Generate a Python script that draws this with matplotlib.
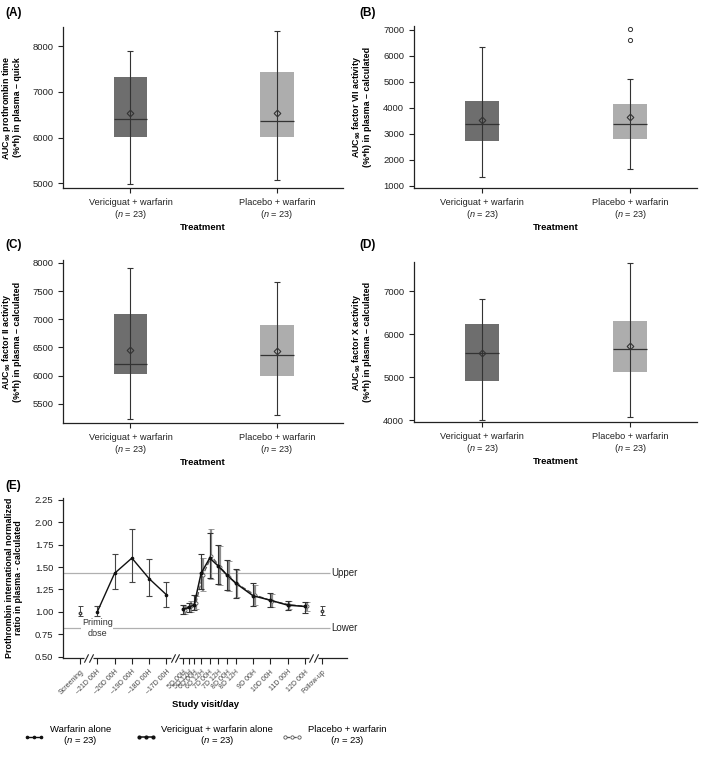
import matplotlib
matplotlib.use("Agg")
import matplotlib.pyplot as plt
from matplotlib.lines import Line2D

plt.rcParams['font.family'] = ['Liberation Sans', 'DejaVu Sans']
plt.rcParams['mathtext.fontset'] = 'custom'
plt.rcParams['mathtext.rm'] = 'Liberation Sans'
plt.rcParams['mathtext.it'] = 'Liberation Sans:italic'
plt.rcParams['mathtext.bf'] = 'Liberation Sans:bold'

# ---- box plot panels (A-D) ----
treatments = ["Vericiguat + warfarin", "Placebo + warfarin"]
n_per_group = [23, 23]

a_q1, a_q3 = [6010, 6010], [7330, 7430]
a_med, a_mean = [6400, 6360], [6540, 6550]
a_lo, a_hi = [4990, 5080], [7890, 8330]
a_out = [[], []]

b_q1, b_q3 = [2740, 2820], [4270, 4160]
b_med, b_mean = [3400, 3400], [3550, 3640]
b_lo, b_hi = [1330, 1640], [6330, 5130]
b_out = [[], [6620, 7030]]

c_q1, c_q3 = [6030, 5990], [7100, 6890]
c_med, c_mean = [6200, 6360], [6450, 6440]
c_lo, c_hi = [5230, 5300], [7900, 7660]
c_out = [[], []]

d_q1, d_q3 = [4910, 5130], [6240, 6310]
d_med, d_mean = [5560, 5650], [5560, 5730]
d_lo, d_hi = [4010, 4070], [6810, 7660]
d_out = [[], []]

# ---- INR time course (E) ----
visit_labels = ["Screening", "\u201321D 00H", "\u201320D 00H", "\u201319D 00H", "\u201318D 00H",
                "\u201317D 00H", "5D 00H", "5D 12H", "6D 00H", "6D 12H", "7D 00H", "7D 12H",
                "8D 00H", "8D 12H", "9D 00H", "10D 00H", "11D 00H", "12D 00H", "Follow-up"]

screen_mean, screen_lo, screen_hi = 0.99, 0.95, 1.06
followup_mean, followup_lo, followup_hi = 1.01, 0.96, 1.06

warf_mean = [1.00, 1.43, 1.60, 1.37, 1.19]
warf_lo = [0.95, 1.25, 1.33, 1.18, 1.05]
warf_hi = [1.07, 1.64, 1.93, 1.59, 1.33]

veri_mean = [1.03, 1.05, 1.08, 1.43, 1.60, 1.51, 1.41, 1.32, 1.18, 1.13, 1.075, 1.06]
veri_lo = [0.98, 1.00, 1.02, 1.25, 1.38, 1.31, 1.24, 1.16, 1.07, 1.05, 1.02, 0.99]
veri_hi = [1.08, 1.10, 1.19, 1.64, 1.88, 1.75, 1.58, 1.48, 1.32, 1.21, 1.12, 1.11]

plac_mean = [1.02, 1.06, 1.10, 1.41, 1.62, 1.50, 1.39, 1.31, 1.19, 1.12, 1.08, 1.06]
plac_lo = [0.98, 1.00, 1.03, 1.23, 1.37, 1.30, 1.23, 1.17, 1.08, 1.05, 1.03, 1.01]
plac_hi = [1.07, 1.12, 1.18, 1.60, 1.92, 1.73, 1.57, 1.47, 1.30, 1.20, 1.12, 1.11]

inr_upper, inr_lower = 1.43, 0.82

# layout positions on the visit axis
visit_x = [0, 1, 2, 3, 4, 5, 5.95, 6.3, 6.6, 7.0, 7.5, 8.0, 8.5, 9.0, 10, 11, 12, 13, 14]
break_x = [0.5, 5.5, 13.5]

box_colors = ['#6e6e6e', '#adadad']
dark = '#333333'

fig = plt.figure(figsize=(7.08, 7.6), dpi=100)


def style_axes(ax):
    for s in ['top', 'right']:
        ax.spines[s].set_visible(False)
    for s in ['left', 'bottom']:
        ax.spines[s].set_linewidth(0.9)
        ax.spines[s].set_color('#222222')
    ax.tick_params(direction='out', length=3.5, width=0.8, labelsize=6.8, colors='#222222')


def box_panel(rect, q1, q3, med, mean, lo, hi, fliers, ylabel, ylim, yticks):
    ax = fig.add_axes(rect)
    style_axes(ax)
    x = list(range(len(treatments)))
    ax.bar(x, [b - a for a, b in zip(q1, q3)], bottom=q1, width=0.23,
           color=box_colors, zorder=1)
    ax.errorbar(x, med, yerr=[[m - l for m, l in zip(med, lo)], [h - m for m, h in zip(med, hi)]],
                fmt='none', ecolor=dark, elinewidth=0.8, capsize=2, capthick=0.8, zorder=2)
    ax.hlines(med, [i - 0.115 for i in x], [i + 0.115 for i in x], color=dark, lw=0.9, zorder=3)
    ax.plot(x, mean, 'D', mfc='none', mec=dark, ms=3.4, mew=0.8, zorder=4)
    for i, fl in enumerate(fliers):
        if fl:
            ax.plot([i] * len(fl), fl, 'o', mfc='none', mec=dark, ms=3, mew=0.7, zorder=4)
    ax.set_xlim(-0.46, 1.45)
    ax.set_ylim(*ylim)
    ax.set_yticks(yticks)
    ax.set_xticks(x)
    ax.set_xticklabels([f"{t}\n($n$ = {n})" for t, n in zip(treatments, n_per_group)],
                       fontsize=6.6, linespacing=1.1)
    ax.set_xlabel("Treatment", fontsize=6.8, fontweight='bold', labelpad=2)
    ax.set_ylabel(ylabel, fontsize=6.4, fontweight='bold', linespacing=1.0)
    ax.yaxis.set_label_coords(-0.148, 0.5)
    return ax


box_panel([0.089, 0.7526, 0.3955, 0.2118], a_q1, a_q3, a_med, a_mean, a_lo, a_hi, a_out,
          "AUC$_{\\mathbf{96}}$ prothrombin time\n(%*h) in plasma \u2013 quick",
          (4900, 8420), [5000, 6000, 7000, 8000])
box_panel([0.5847, 0.7526, 0.3997, 0.2132], b_q1, b_q3, b_med, b_mean, b_lo, b_hi, b_out,
          "AUC$_{\\mathbf{96}}$ factor VII activity\n(%*h) in plasma \u2013 calculated",
          (920, 7150), [1000, 2000, 3000, 4000, 5000, 6000, 7000])
box_panel([0.089, 0.4434, 0.3955, 0.2145], c_q1, c_q3, c_med, c_mean, c_lo, c_hi, c_out,
          "AUC$_{\\mathbf{96}}$ factor II activity\n(%*h) in plasma \u2013 calculated",
          (5160, 8050), [5500, 6000, 6500, 7000, 7500, 8000])
box_panel([0.5847, 0.4447, 0.3997, 0.2105], d_q1, d_q3, d_med, d_mean, d_lo, d_hi, d_out,
          "AUC$_{\\mathbf{96}}$ factor X activity\n(%*h) in plasma \u2013 calculated",
          (3960, 7675), [4000, 5000, 6000, 7000])

# ---- panel E ----
ax = fig.add_axes([0.089, 0.1342, 0.4011, 0.2105])
style_axes(ax)
ax.set_xlim(-0.98, 15.43)
ax.set_ylim(0.485, 2.27)
ax.set_yticks([0.5, 0.75, 1.0, 1.25, 1.5, 1.75, 2.0, 2.25])
ax.set_yticklabels([f"{v:.2f}" for v in [0.5, 0.75, 1.0, 1.25, 1.5, 1.75, 2.0, 2.25]])
ax.set_xticks(visit_x)
ax.set_xticklabels(visit_labels, rotation=45, ha='right', rotation_mode='anchor',
                   fontsize=5, color='#444444')
ax.tick_params(axis='x', length=4)

ax.hlines([inr_upper, inr_lower], -0.98, 14.45, color='#b0b0b0', lw=0.9, zorder=0)
ax.text(14.5, inr_upper, "Upper", fontsize=7, va='center', ha='left', color='#222222')
ax.text(14.5, inr_lower, "Lower", fontsize=7, va='center', ha='left', color='#222222')
ax.text(visit_x[1], inr_lower, "Priming\ndose", fontsize=6.5, ha='center', va='center',
        color='#333333', bbox=dict(facecolor='white', edgecolor='none', pad=0.5), zorder=1)

# screening / follow-up
ax.errorbar([visit_x[0]], [screen_mean], yerr=[[screen_mean - screen_lo], [screen_hi - screen_mean]],
            fmt='o', ms=1.8, mfc='white', mec='#444444', ecolor='#444444', elinewidth=0.7,
            capsize=1.8, capthick=0.7, zorder=3)
ax.errorbar([visit_x[-1]], [followup_mean],
            yerr=[[followup_mean - followup_lo], [followup_hi - followup_mean]],
            fmt='o', ms=1.8, mfc='white', mec='#444444', ecolor='#444444', elinewidth=0.7,
            capsize=1.8, capthick=0.7, zorder=3)

# warfarin alone (run-in)
wx = visit_x[1:6]
ax.errorbar(wx, warf_mean, yerr=[[m - l for m, l in zip(warf_mean, warf_lo)],
                                 [h - m for m, h in zip(warf_mean, warf_hi)]],
            fmt='-', color='#111111', lw=1.0, marker='o', ms=1.6,
            ecolor='#444444', elinewidth=0.8, capsize=2, capthick=0.8, zorder=3)

# treatment period
tx = visit_x[6:18]
ax.errorbar([v + 0.1 for v in tx], plac_mean,
            yerr=[[m - l for m, l in zip(plac_mean, plac_lo)],
                  [h - m for m, h in zip(plac_mean, plac_hi)]],
            fmt='--', color='#555555', lw=0.9, marker='o', ms=2.2, mfc='white', mec='#555555',
            mew=0.6, ecolor='#8c8c8c', elinewidth=1.6, capsize=2, capthick=0.8, zorder=3)
ax.errorbar(tx, veri_mean,
            yerr=[[m - l for m, l in zip(veri_mean, veri_lo)],
                  [h - m for m, h in zip(veri_mean, veri_hi)]],
            fmt='-', color='#111111', lw=1.1, marker='o', ms=1.8,
            ecolor='#333333', elinewidth=0.8, capsize=2, capthick=0.8, zorder=4)

# axis breaks
tr = ax.get_xaxis_transform()
for xb in break_x:
    ax.plot([xb - 0.25, xb + 0.25], [0, 0], color='white', lw=2.5, transform=tr,
            clip_on=False, zorder=6, solid_capstyle='butt')
    for dx in (-0.13, 0.13):
        ax.plot([xb + dx], [0], marker=[(-0.5, -1), (0.5, 1)], ms=6, mew=0.8, color='#222222',
                transform=tr, clip_on=False, zorder=7)

ax.set_xlabel("Study visit/day", fontsize=6.8, fontweight='bold', labelpad=3)
ax.set_ylabel("Prothrombin international normalized\nratio in plasma - calculated",
              fontsize=6.4, fontweight='bold', linespacing=1.0)
ax.yaxis.set_label_coords(-0.14, 0.5)

# legend entries
leg_handles = [
    Line2D([], [], color='#111111', lw=1.0, marker='o', ms=1.6),
    Line2D([], [], color='#111111', lw=1.1, marker='o', ms=2.0),
    Line2D([], [], color='#555555', lw=0.9, ls='--', marker='o', ms=2.4, mfc='white', mew=0.6),
]
leg_labels = ["Warfarin alone", "Vericiguat + warfarin alone", "Placebo + warfarin"]
leg_x = [0.034, 0.192, 0.399]
for h, lab, lx, n in zip(leg_handles, leg_labels, leg_x, n_per_group + [23]):
    lg = fig.legend([h], [f"{lab}\n($n$ = {n})"], loc='center left', bbox_to_anchor=(lx, 0.031),
                    frameon=False, fontsize=6.8, numpoints=3, handlelength=2.1,
                    handletextpad=0.6, borderpad=0, borderaxespad=0)
    for t in lg.get_texts():
        t.set_multialignment('center')
        t.set_linespacing(1.0)

for lab, x, y in [("(A)", 0.008, 0.983), ("(B)", 0.507, 0.983), ("(C)", 0.008, 0.678),
                  ("(D)", 0.507, 0.678), ("(E)", 0.008, 0.3605)]:
    fig.text(x, y, lab, fontsize=8.5, fontweight='bold', va='center', ha='left')

fig.savefig("out.png", dpi=100)
